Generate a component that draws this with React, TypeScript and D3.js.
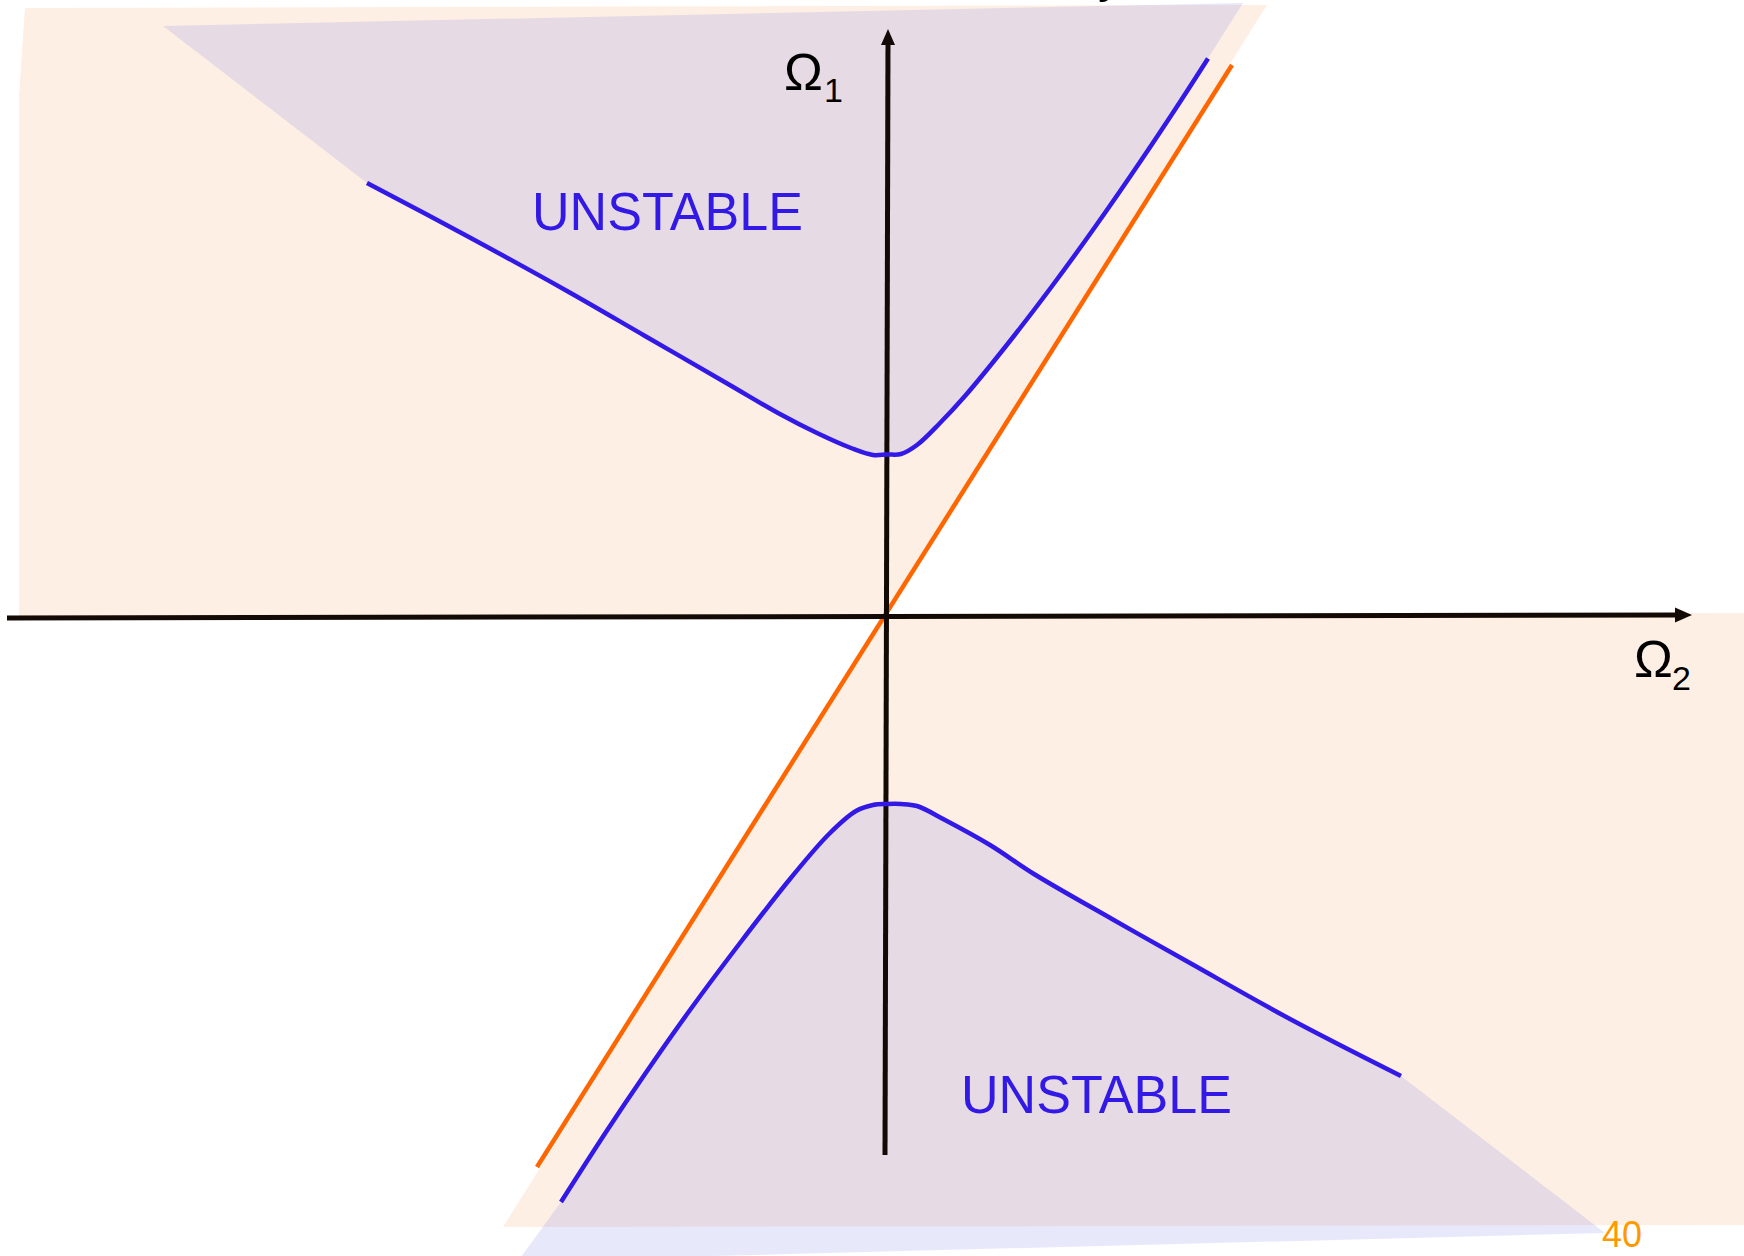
import React from "react";
import * as d3 from "d3";

// Coordinates in diagram units: Ω2 (horizontal), Ω1 (vertical), origin at the axes crossing
const upperOmega2 = [-519, -419, -319, -241, -158, -108, -69, -35, -13, 1, 15, 31, 54, 79, 120, 165, 209, 254, 293, 322];
const upperOmega1 = [432, 379, 324, 279, 231, 202, 182, 167, 160, 160.5, 161, 170, 192, 219, 269, 327.5, 388, 453, 511.5, 556.5];

const lowerOmega2 = [-325, -280, -241, -196, -146, -96, -57, -30, -13, 1, 15, 31, 59, 104, 148, 226, 304, 404, 515];
const lowerOmega1 = [-587, -517, -459, -395, -328, -264, -219, -196, -190, -189, -189, -191, -205, -230, -259, -304, -348, -404, -461];

const orangeLine: [number, number][] = [[-349, -552], [346, 550]];

const peachUpper: [number, number][] = [[-861, 607], [381, 610], [-2, 0], [-867, -2], [-867, 519]];
const peachLower: [number, number][] = [[0, 0], [858, 2], [858, -610], [-383, -612]];
const lavenderUpperCorners: [number, number][] = [[357, 612], [-723, 589]];
const lavenderLowerCorners: [number, number][] = [[719, -618], [-368, -646]];

const hAxis: [number, number][] = [[-879, -3], [806, 0]];
const vAxis: [number, number][] = [[-1, -540], [2, 586]];

const unstableLabels = [
  { text: "UNSTABLE", o2: -354, o1: 385 },
  { text: "UNSTABLE", o2: 75, o1: -498 },
];

const W = 1744;
const H = 1256;
const x = d3.scaleLinear().domain([-886, 858]).range([0, W]);
const y = d3.scaleLinear().domain([615, -641]).range([0, H]);

const zip = (a: number[], b: number[]): [number, number][] => a.map((v, i) => [v, b[i]]);

export default function App() {
  const upper = zip(upperOmega2, upperOmega1);
  const lower = zip(lowerOmega2, lowerOmega1);
  const line = d3
    .line<[number, number]>()
    .x((d) => x(d[0]))
    .y((d) => y(d[1]))
    .curve(d3.curveCatmullRom.alpha(0.5));
  const poly = (pts: [number, number][]) =>
    "M" + pts.map((p) => `${x(p[0])},${y(p[1])}`).join("L") + "Z";

  const upperRev = [...upper].reverse();
  const lavUpperPath =
    `M${x(lavenderUpperCorners[1][0])},${y(lavenderUpperCorners[1][1])}` +
    `L${x(lavenderUpperCorners[0][0])},${y(lavenderUpperCorners[0][1])}` +
    "L" + (line(upperRev) as string).slice(1) + "Z";
  const lavLowerPath =
    (line(lower) as string) +
    `L${x(lavenderLowerCorners[0][0])},${y(lavenderLowerCorners[0][1])}` +
    `L${x(lavenderLowerCorners[1][0])},${y(lavenderLowerCorners[1][1])}Z`;

  const font = "'Liberation Sans', Arial, Helvetica, sans-serif";
  const axisColor = "#140a05";

  const vTop = [x(vAxis[1][0]), y(vAxis[1][1])];
  const hRight = [x(hAxis[1][0]), y(hAxis[1][1])];

  return (
    <svg
      width={W}
      height={H}
      style={{ position: "absolute", left: 0, top: 0, background: "#fff" }}
    >
      <path d={poly(peachUpper)} fill="#fdefe4" />
      <path d={poly(peachLower)} fill="#fdefe4" />
      <path d={lavUpperPath} fill="rgb(120,120,230)" fillOpacity={0.17} />
      <path d={lavLowerPath} fill="rgb(120,120,230)" fillOpacity={0.17} />

      <text x={1098} y={-8} fontFamily={font} fontSize={50} fill="#000">y</text>

      {/* orange line */}
      <line
        x1={x(orangeLine[0][0])}
        y1={y(orangeLine[0][1])}
        x2={x(orangeLine[1][0])}
        y2={y(orangeLine[1][1])}
        stroke="#ff6600"
        strokeWidth={4.5}
      />

      {/* axes */}
      <line
        x1={x(hAxis[0][0])}
        y1={y(hAxis[0][1])}
        x2={hRight[0] - 10}
        y2={hRight[1]}
        stroke={axisColor}
        strokeWidth={5}
      />
      <path
        d={`M${hRight[0]},${hRight[1]}L${hRight[0] - 17},${hRight[1] - 7.5}L${hRight[0] - 17},${hRight[1] + 7.5}Z`}
        fill={axisColor}
      />
      <line
        x1={x(vAxis[0][0])}
        y1={y(vAxis[0][1])}
        x2={vTop[0]}
        y2={vTop[1] + 10}
        stroke={axisColor}
        strokeWidth={5}
      />
      <path
        d={`M${vTop[0]},${vTop[1]}L${vTop[0] - 7},${vTop[1] + 16}L${vTop[0] + 7},${vTop[1] + 16}Z`}
        fill={axisColor}
      />

      {/* blue stability boundaries */}
      <path d={line(upper) as string} fill="none" stroke="#3319e6" strokeWidth={4.5} />
      <path d={line(lower) as string} fill="none" stroke="#3319e6" strokeWidth={4.5} />

      {unstableLabels.map((l, i) => (
        <text
          key={i}
          x={x(l.o2)}
          y={y(l.o1)}
          fontFamily={font}
          fontSize={54}
          fill="#3319e6"
          textLength={271}
          lengthAdjust="spacingAndGlyphs"
        >
          {l.text}
        </text>
      ))}

      {/* axis labels */}
      <text x={784} y={90} fontFamily={font} fontSize={52} fill="#000">Ω</text>
      <text x={824} y={102} fontFamily={font} fontSize={34} fill="#000">1</text>
      <text x={1634} y={677} fontFamily={font} fontSize={52} fill="#000">Ω</text>
      <text x={1672} y={690} fontFamily={font} fontSize={34} fill="#000">2</text>

      <text x={1602} y={1247} fontFamily={font} fontSize={36} fill="#ff9900">40</text>
    </svg>
  );
}
